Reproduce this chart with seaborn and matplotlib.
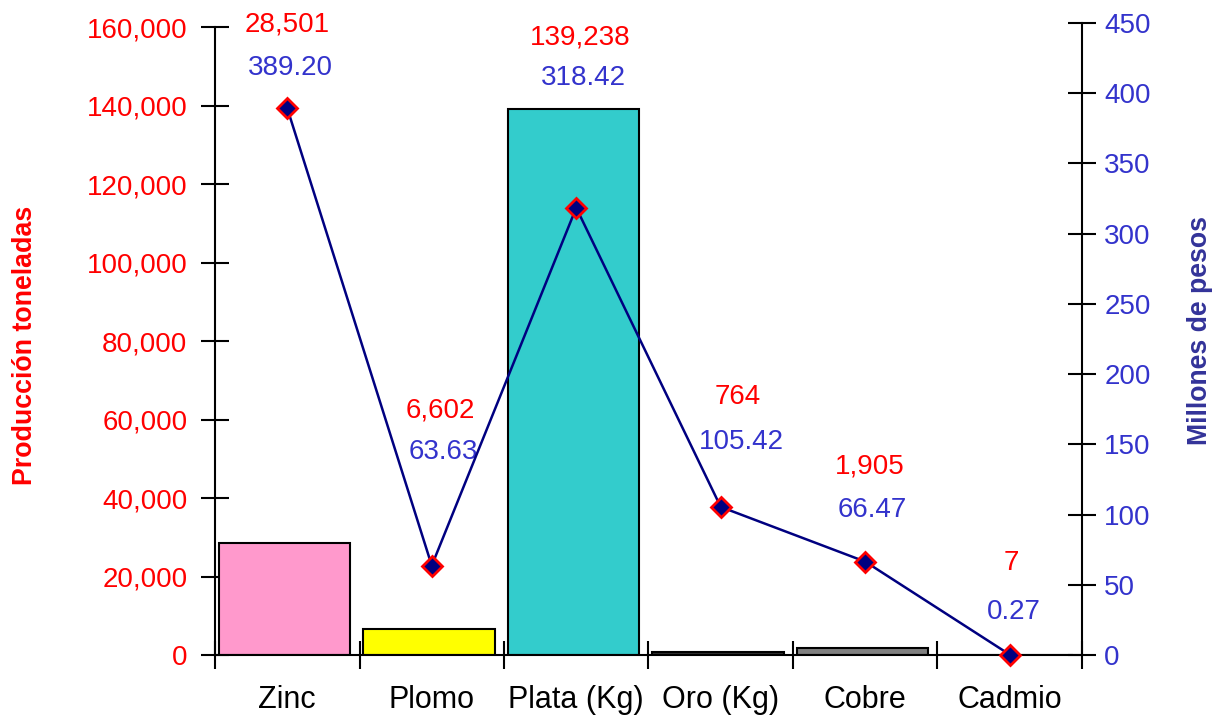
import numpy as np
import pandas as pd
import matplotlib
matplotlib.use("Agg")
import matplotlib.pyplot as plt
import seaborn as sns
from matplotlib.ticker import FuncFormatter

# Data
minerals = ['Zinc', 'Plomo', 'Plata (Kg)', 'Oro (Kg)', 'Cobre', 'Cadmio']
produccion = [28501, 6602, 139238, 764, 1905, 7]
valor_mdp = [389.20, 63.63, 318.42, 105.42, 66.47, 0.27]
bar_colors = ['#FF99CC', '#FFFF00', '#33CCCC', '#333333', '#808080', '#993300']

# label placement (right axis units) and small x nudges
red_label_y = [448.6, 174.4, 439.3, 183.7, 133.9, 65.5]
blue_label_y = [418.0, 144.5, 410.8, 151.7, 103.2, 30.6]
label_dx = [0.0, 0.06, 0.03, 0.12, 0.03, 0.01]

sns.set_theme(style="white")
plt.rcParams['font.family'] = ['Liberation Sans', 'DejaVu Sans']

RED = '#FF0000'
BLUE = '#3333CC'
NAVY = '#000080'

df = pd.DataFrame({'mineral': minerals, 'prod': produccion, 'valor': valor_mdp})

fig = plt.figure(figsize=(12.17, 7.17), dpi=100)
ax = fig.add_axes([0.1767, 0.0865, 0.889 - 0.1767, 0.968 - 0.0865])

sns.barplot(data=df, x='mineral', y='prod', hue='mineral', palette=bar_colors,
            legend=False, width=0.91, edgecolor='black', linewidth=1.5, ax=ax,
            saturation=1)
# reference bars sit a touch left of the category centre
for bar in ax.patches:
    bar.set_x(bar.get_x() - 0.02)

ax2 = ax.twinx()
pos = np.arange(len(minerals))
sns.lineplot(x=pos, y=df['valor'], ax=ax2, color=NAVY, linewidth=1.8,
             marker='D', markersize=10, markerfacecolor=NAVY,
             markeredgecolor=RED, markeredgewidth=2, zorder=5)
for line in ax2.lines:
    line.set_clip_on(False)

ax.set_xlim(-0.5, len(minerals) - 0.5)
ax2.set_xlim(-0.5, len(minerals) - 0.5)
ax.set_ylim(0, 160000 * 632 / 627.5)
ax2.set_ylim(0, 450)

ax.set_yticks(np.arange(0, 160001, 20000))
ax.yaxis.set_major_formatter(FuncFormatter(lambda v, p: f'{int(v):,}'))
ax2.set_yticks(np.arange(0, 451, 50))

for a in (ax, ax2):
    for s in a.spines.values():
        s.set_visible(False)
ax.spines['left'].set_visible(True)
ax.spines['left'].set_bounds(0, 160000)
ax.spines['bottom'].set_visible(True)
ax2.spines['right'].set_visible(True)
for s in [ax.spines['left'], ax.spines['bottom'], ax2.spines['right']]:
    s.set_color('black')
    s.set_linewidth(1.5)

ax.tick_params(axis='y', direction='inout', length=20, width=1.5, color='black',
               labelcolor=RED, labelsize=20, pad=10, left=True)
ax2.tick_params(axis='y', direction='inout', length=20, width=1.5, color='black',
                labelcolor=BLUE, labelsize=20, pad=6, right=True)

# category separators on the x axis, labels centred
ax.set_xticks(pos)
ax.set_xticklabels(minerals)
ax.set_xticks(np.arange(-0.5, len(minerals)), minor=True)
ax.tick_params(axis='x', which='major', length=0, labelsize=22, labelcolor='black', pad=21.5)
ax.tick_params(axis='x', which='minor', direction='inout', length=20, width=1.5,
               color='black', bottom=True)
ax.set_xlabel('')

ax.set_ylabel('Producción toneladas', color=RED, fontsize=19.3, fontweight='bold')
ax.yaxis.label.set_va('center')
ax.yaxis.set_label_coords(-0.219, 0.49)
ax2.set_ylabel('Millones de pesos', color='#333399', fontsize=19.2, fontweight='bold')
ax2.yaxis.label.set_va('center')
ax2.yaxis.set_label_coords(1.136, 0.514)

for i in range(len(minerals)):
    ax2.text(i + label_dx[i], red_label_y[i], f'{produccion[i]:,}', color=RED,
             fontsize=20, ha='center', va='center', clip_on=False)
    ax2.text(i + label_dx[i] + 0.02, blue_label_y[i], f'{valor_mdp[i]:.2f}', color=BLUE,
             fontsize=20, ha='center', va='center', clip_on=False)

ax.set_zorder(1)
ax2.set_zorder(2)
ax.patch.set_visible(False)

fig.savefig('out.png', dpi=100)
